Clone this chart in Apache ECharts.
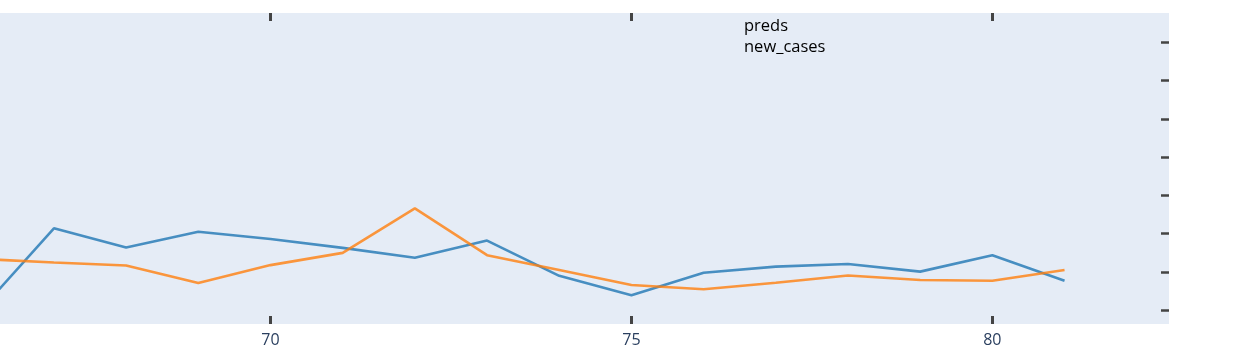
<!DOCTYPE html>
<html>
<head>
<meta charset="utf-8">
<script src="https://cdn.jsdelivr.net/npm/echarts@6/dist/echarts.min.js"></script>
<style>
html,body{margin:0;padding:0;background:#fff;}
#chart{width:1242px;height:358px;}
</style>
</head>
<body>
<div id="chart"></div>
<script>
var xValues = [66, 67, 68, 69, 70, 71, 72, 73, 74, 75, 76, 77, 78, 79, 80, 81];
var preds = [4, 214, 164, 205, 186, 163, 137, 182, 90, 39, 98, 114, 121, 101, 144, 77];
var newCases = [134, 125, 117, 71, 118, 150, 266, 144, 105, 66, 55, 72, 91, 79, 77, 105];
var xTicks = [70, 75, 80];
var yTicks = [0, 100, 200, 300, 400, 500, 600, 700];
var seriesNames = ['preds', 'new_cases'];

function pairs(xs, ys) { return xs.map(function (x, i) { return [x, ys[i]]; }); }

var chart = echarts.init(document.getElementById('chart'), null, {renderer: 'canvas'});
var tickStyle = {color: '#444', width: 3};
chart.setOption({
  animation: false,
  backgroundColor: '#fff',
  grid: {left: 0, right: 73, top: 13, bottom: 34, show: true, backgroundColor: '#E5ECF6', borderWidth: 0},
  legend: {
    data: seriesNames,
    orient: 'vertical',
    left: 734, top: 13,
    icon: 'none',
    itemWidth: 0, itemHeight: 14,
    itemGap: 3.5,
    textStyle: {fontFamily: '"Open Sans", sans-serif', fontSize: 16.5, color: '#000'}
  },
  xAxis: [{
    type: 'value', min: 66.253, max: 82.447, position: 'bottom',
    axisLine: {show: false, onZero: false}, splitLine: {show: false},
    axisTick: {show: true, inside: true, length: 8, lineStyle: tickStyle, customValues: xTicks},
    axisLabel: {show: true, customValues: xTicks, color: '#2a3f5f', fontSize: 16, fontFamily: '"Open Sans", sans-serif', margin: 8}
  }, {
    type: 'value', min: 66.253, max: 82.447, position: 'top',
    axisLine: {show: false, onZero: false}, splitLine: {show: false},
    axisTick: {show: true, inside: true, length: 8, lineStyle: tickStyle, customValues: xTicks},
    axisLabel: {show: false}
  }],
  yAxis: [{
    type: 'value', min: -35.8, max: 776.4, position: 'right',
    axisLine: {show: false, onZero: false}, splitLine: {show: false},
    axisTick: {show: true, inside: true, length: 8, lineStyle: {color: '#444', width: 2.5}, customValues: yTicks},
    axisLabel: {show: false}
  }],
  series: [{
    name: seriesNames[0], type: 'line', data: pairs(xValues, preds),
    showSymbol: false, symbol: 'none', clip: true,
    itemStyle: {color: '#1f77b4'},
    lineStyle: {color: '#1f77b4', width: 2.6, opacity: 0.8}
  }, {
    name: seriesNames[1], type: 'line', data: pairs(xValues, newCases),
    showSymbol: false, symbol: 'none', clip: true,
    itemStyle: {color: '#ff7f0e'},
    lineStyle: {color: '#ff7f0e', width: 2.6, opacity: 0.8}
  }]
});
</script>
</body>
</html>
